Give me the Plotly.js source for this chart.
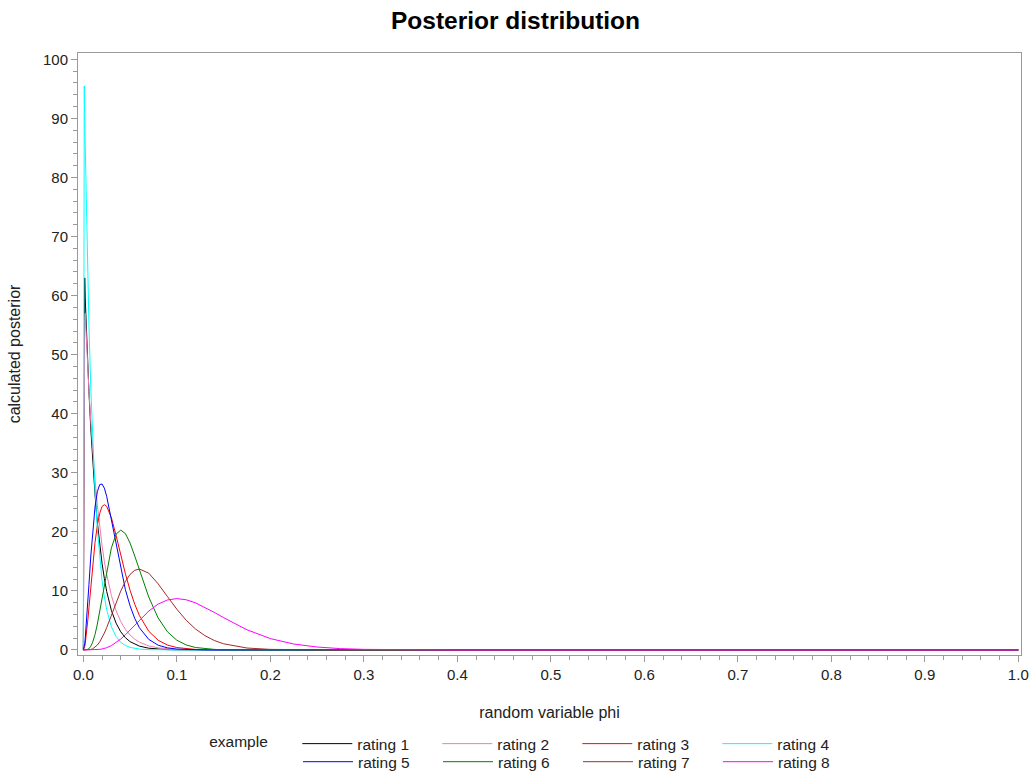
<!DOCTYPE html>
<html><head><meta charset="utf-8">
<script src="https://cdn.plot.ly/plotly-3.0.1.min.js"></script>
<style>html,body{margin:0;padding:0;background:#fff}#chart{width:1031px;height:775px}</style>
</head><body><div id="chart"></div>
<script>
// random variable phi (shared grid)
const phi = [0, 0.001, 0.0015, 0.002, 0.003, 0.004, 0.005, 0.006, 0.008, 0.01,
  0.0125, 0.015, 0.0175, 0.02, 0.0225, 0.025, 0.03, 0.035, 0.04, 0.045,
  0.05, 0.055, 0.06, 0.07, 0.08, 0.09, 0.1, 0.11, 0.12, 0.13,
  0.14, 0.15, 0.175, 0.2, 0.225, 0.25, 0.275, 0.3, 0.35, 0.4,
  0.5, 0.6, 0.7, 0.8, 0.9, 1.0];

const rating1 = [0, 61, 63, 59.7, 55.2, 51.0, 47.2, 43.7, 37.4, 32.0,
  26.3, 21.6, 17.8, 14.7, 12.1, 9.9, 6.7, 4.55, 3.08, 2.08,
  1.41, 0.96, 0.65, 0.30, 0.14, 0.06, 0.03, 0.01, 0, 0,
  0, 0, 0, 0, 0, 0, 0, 0, 0, 0, 0, 0, 0, 0, 0, 0];
const rating2 = [0, 52, 56, 57, 53.4, 50.0, 46.9, 43.9, 38.6, 33.9,
  28.8, 24.5, 20.8, 17.7, 15.0, 12.8, 9.23, 6.67, 4.82, 3.48,
  2.52, 1.82, 1.31, 0.69, 0.36, 0.19, 0.10, 0.05, 0.03, 0.01,
  0, 0, 0, 0, 0, 0, 0, 0, 0, 0, 0, 0, 0, 0, 0, 0];
const rating3 = [0, 0.26, 0.59, 1.04, 2.21, 3.68, 5.35, 7.15, 10.9, 14.4,
  18.2, 21.1, 23.1, 24.3, 24.6, 24.3, 22.4, 19.4, 16.1, 12.9,
  10.1, 7.74, 5.83, 3.17, 1.65, 0.83, 0.41, 0.20, 0.09, 0.04,
  0.02, 0.01, 0, 0, 0, 0, 0, 0, 0, 0, 0, 0, 0, 0, 0, 0];
const rating4 = [0, 95.5, 90.4, 85.6, 76.6, 68.7, 61.5, 55.1, 44.2, 35.5,
  27.0, 20.5, 15.5, 11.8, 8.97, 6.8, 3.93, 2.27, 1.31, 0.75,
  0.44, 0.25, 0.15, 0.05, 0.02, 0.01, 0, 0, 0, 0,
  0, 0, 0, 0, 0, 0, 0, 0, 0, 0, 0, 0, 0, 0, 0, 0];
const rating5 = [0, 0.52, 1.11, 1.87, 3.79, 6.06, 8.52, 11.05, 15.9, 20.1,
  24.2, 26.8, 28.0, 28.1, 27.4, 26.0, 22.1, 17.8, 13.7, 10.2,
  7.47, 5.34, 3.76, 1.79, 0.81, 0.36, 0.15, 0.07, 0.03, 0.01,
  0, 0, 0, 0, 0, 0, 0, 0, 0, 0, 0, 0, 0, 0, 0, 0];
const rating6 = [0, 0, 0, 0.003, 0.016, 0.049, 0.11, 0.22, 0.63, 1.32,
  2.62, 4.39, 6.52, 8.85, 11.2, 13.5, 17.3, 19.6, 20.3, 19.7,
  18.1, 15.9, 13.5, 8.95, 5.42, 3.07, 1.65, 0.85, 0.42, 0.20,
  0.10, 0.04, 0.005, 0, 0, 0, 0, 0, 0, 0, 0, 0, 0, 0, 0, 0];
const rating7 = [0, 0, 0, 0, 0.001, 0.005, 0.014, 0.03, 0.09, 0.20,
  0.45, 0.83, 1.37, 2.05, 2.86, 3.79, 5.86, 8.0, 9.97, 11.6,
  12.8, 13.5, 13.7, 13.0, 11.2, 9.04, 6.90, 5.04, 3.55, 2.43,
  1.61, 1.05, 0.33, 0.10, 0.03, 0.01, 0, 0, 0, 0, 0, 0, 0, 0, 0, 0];
const rating8 = [0, 0, 0, 0, 0, 0, 0, 0, 0, 0.01,
  0.02, 0.05, 0.10, 0.16, 0.26, 0.38, 0.74, 1.23, 1.85, 2.57,
  3.38, 4.22, 5.06, 6.59, 7.77, 8.47, 8.7, 8.50, 7.98, 7.24,
  6.37, 5.48, 3.42, 1.93, 1.01, 0.50, 0.23, 0.105, 0.02, 0,
  0, 0, 0, 0, 0, 0];

const seriesNames = ['rating 1', 'rating 2', 'rating 3', 'rating 4', 'rating 5', 'rating 6', 'rating 7', 'rating 8'];
const seriesValues = [rating1, rating2, rating3, rating4, rating5, rating6, rating7, rating8];
const seriesColors = ['#000000', '#f07cb0', '#ff0000', '#00ffff', '#0000ff', '#008000', '#a52a2a', '#ff00ff'];

const FONT = 'Liberation Sans, Arial, sans-serif';

const traces = seriesNames.map((name, i) => ({
  type: 'scatter', mode: 'lines', name: name,
  x: phi, y: seriesValues[i],
  line: {color: seriesColors[i], width: 1},
  legend: i < 4 ? 'legend' : 'legend2',
  hoverinfo: 'x+y+name'
}));

const axisCommon = {
  showgrid: false, zeroline: false, showline: true, mirror: true,
  linecolor: '#9a9a9a', linewidth: 1,
  ticks: 'outside', ticklen: 6, tickcolor: '#9a9a9a',
  tickfont: {family: FONT, size: 15, color: '#222'},
  automargin: false
};

const layout = {
  width: 1031, height: 775,
  paper_bgcolor: '#fff', plot_bgcolor: '#fff',
  margin: {l: 78, r: 10, t: 53, b: 120, autoexpand: false},
  title: {text: 'Posterior distribution', x: 0.5, xref: 'container', xanchor: 'center',
    y: 0.974, yref: 'container', yanchor: 'middle',
    font: {family: FONT, size: 24.5, color: '#000', weight: 'bold'}},
  xaxis: Object.assign({}, axisCommon, {
    range: [-0.0057, 1.0029], tick0: 0, dtick: 0.1, tickformat: '.1f',
    minor: {dtick: 0.02, ticks: 'outside', ticklen: 4, tickcolor: '#9a9a9a'},
    title: {text: 'random variable phi', font: {family: FONT, size: 16, color: '#222'}, standoff: 24}
  }),
  yaxis: Object.assign({}, axisCommon, {
    range: [-0.85, 101.07], tick0: 0, dtick: 10,
    minor: {dtick: 2, ticks: 'outside', ticklen: 4, tickcolor: '#9a9a9a'},
    title: {text: 'calculated posterior', font: {family: FONT, size: 16, color: '#222'}, standoff: 18}
  }),
  legend: {
    orientation: 'h', x: 0.137, y: -0.1197, xanchor: 'left', yanchor: 'top',
    title: {text: 'example&nbsp;&nbsp;&nbsp;&nbsp;&nbsp;', side: 'left', font: {family: FONT, size: 15.5, color: '#222'}},
    font: {family: FONT, size: 15.5, color: '#222'},
    itemwidth: 50, entrywidth: 75, tracegroupgap: 0, bgcolor: 'rgba(0,0,0,0)'
  },
  legend2: {
    orientation: 'h', x: 0.2333, y: -0.1497, xanchor: 'left', yanchor: 'top',
    font: {family: FONT, size: 15.5, color: '#222'},
    itemwidth: 50, entrywidth: 75, tracegroupgap: 0, bgcolor: 'rgba(0,0,0,0)'
  },
  showlegend: true
};

Plotly.newPlot('chart', traces, layout, {displayModeBar: false, staticPlot: true});
</script>
</body></html>
